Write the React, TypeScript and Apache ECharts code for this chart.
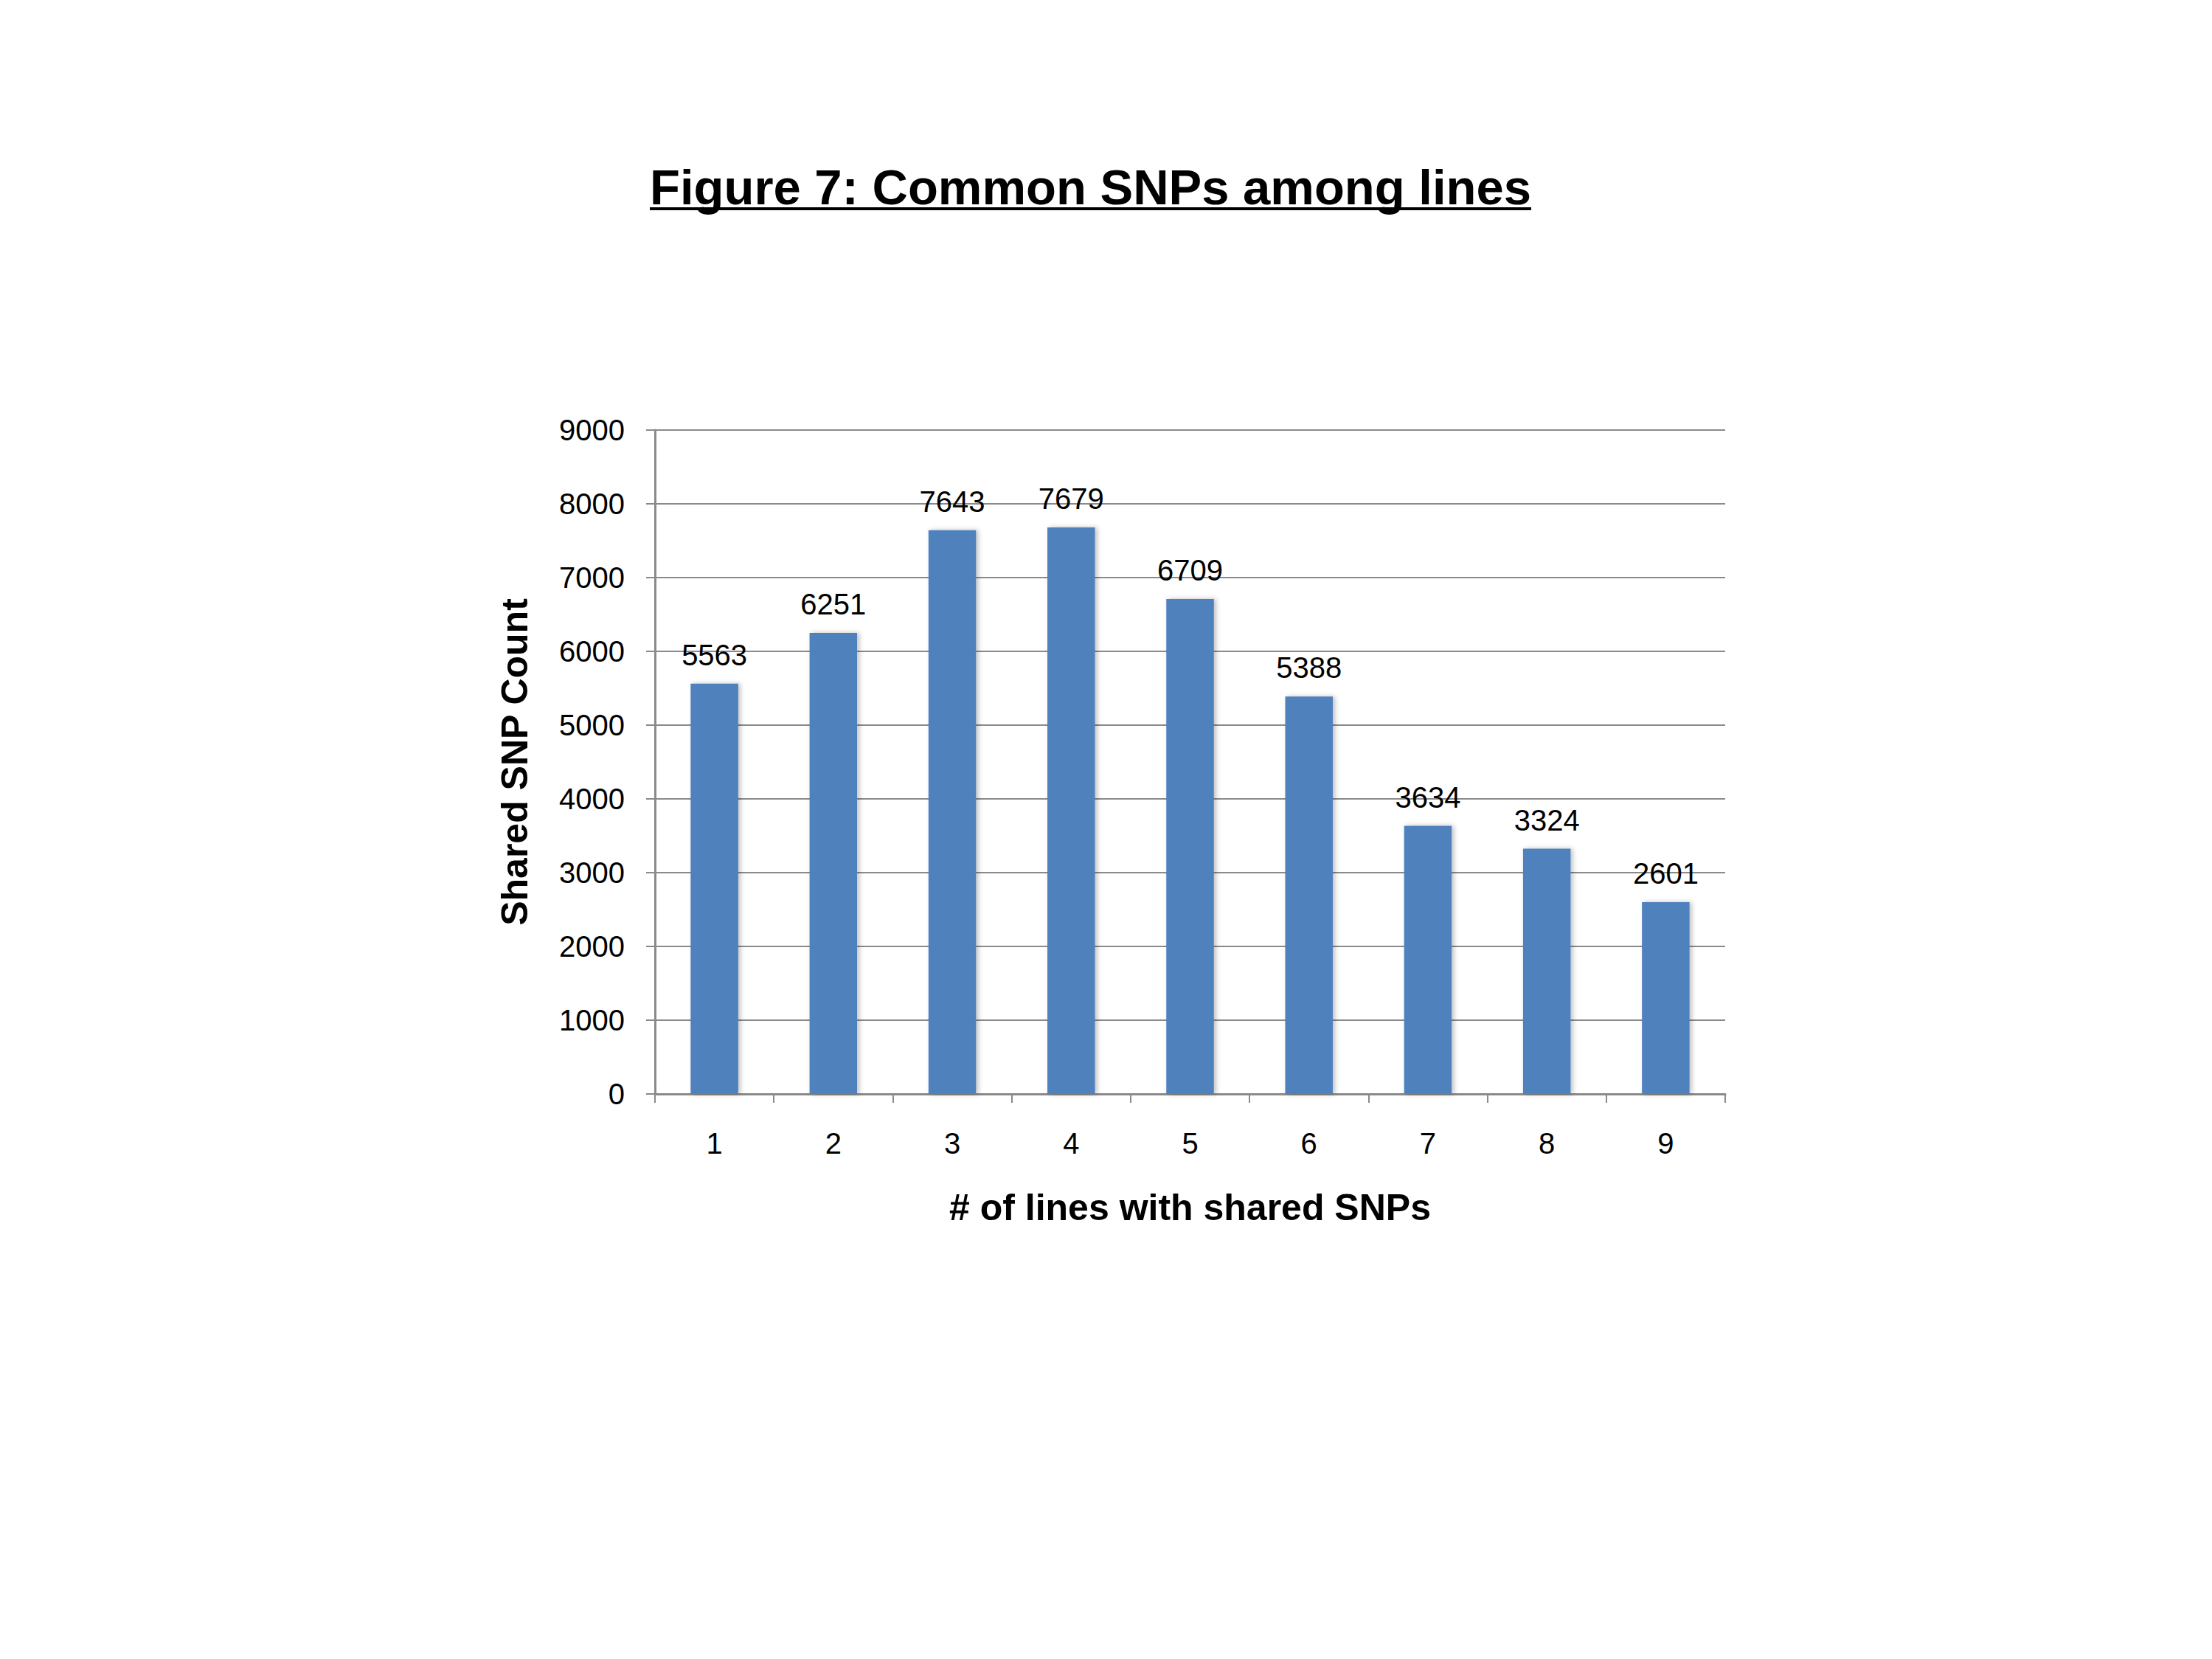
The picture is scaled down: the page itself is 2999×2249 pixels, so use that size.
import React, { useEffect, useRef } from "react";
import * as echarts from "echarts";

const titleText = "Figure 7: Common SNPs among lines";
const categories = ["1", "2", "3", "4", "5", "6", "7", "8", "9"];
const sharedCounts = [5563, 6251, 7643, 7679, 6709, 5388, 3634, 3324, 2601];
const xAxisName = "# of lines with shared SNPs";
const yAxisName = "Shared SNP Count";
const yMin = 0;
const yMax = 9000;
const yStep = 1000;

const FONT = "'Liberation Sans', Arial, Helvetica, sans-serif";
const GRAY = "#8a8a8a";

export default function App() {
  const ref = useRef<HTMLDivElement>(null);
  useEffect(() => {
    if (!ref.current) return;
    const chart = echarts.init(ref.current, null, { renderer: "svg" });
    const titleLeft = 881;
    const titleSize = 67;
    chart.setOption({
      animation: false,
      backgroundColor: "#ffffff",
      title: {
        text: titleText,
        left: titleLeft,
        top: 220,
        padding: 0,
        textStyle: {
          fontFamily: FONT,
          fontWeight: "bold",
          fontSize: titleSize,
          color: "#000000",
          lineHeight: titleSize,
        },
      },
      graphic: [
        {
          type: "rect",
          shape: { x: titleLeft, y: 281, width: 1195, height: 4 },
          style: { fill: "#000000" },
          silent: true,
        },
      ],
      grid: { left: 888, top: 583, width: 1451, height: 900, containLabel: false },
      xAxis: {
        type: "category",
        data: categories,
        name: xAxisName,
        nameLocation: "middle",
        nameGap: 129,
        nameTextStyle: { fontFamily: FONT, fontWeight: "bold", fontSize: 50, color: "#000" },
        axisLine: { show: true, lineStyle: { color: GRAY, width: 3 } },
        axisTick: { show: true, length: 12, alignWithLabel: false, lineStyle: { color: GRAY, width: 2 } },
        axisLabel: { fontFamily: FONT, fontSize: 40, color: "#000", margin: 47 },
        splitLine: { show: false },
      },
      yAxis: {
        type: "value",
        min: yMin,
        max: yMax,
        interval: yStep,
        name: yAxisName,
        nameLocation: "middle",
        nameGap: 165,
        nameRotate: 90,
        nameTextStyle: { fontFamily: FONT, fontWeight: "bold", fontSize: 50, color: "#000" },
        axisLine: { show: true, lineStyle: { color: GRAY, width: 3 } },
        axisTick: { show: true, length: 12, lineStyle: { color: GRAY, width: 2 } },
        axisLabel: {
          fontFamily: FONT,
          fontSize: 40,
          color: "#000",
          margin: 41,
          formatter: (v: number) => String(v),
        },
        splitLine: { show: true, lineStyle: { color: GRAY, width: 2 } },
      },
      series: [
        {
          type: "bar",
          data: sharedCounts,
          barWidth: "40%",
          itemStyle: {
            color: "#4f81bd",
            shadowColor: "rgba(0,0,0,0.25)",
            shadowBlur: 6,
            shadowOffsetX: 3,
            shadowOffsetY: 0,
          },
          label: {
            show: true,
            position: "top",
            distance: 19,
            fontFamily: FONT,
            fontSize: 40,
            color: "#000",
          },
        },
      ],
    });
    return () => chart.dispose();
  }, []);
  return (
    <div
      ref={ref}
      style={{ position: "fixed", left: 0, top: 0, width: 2999, height: 2249, background: "#fff" }}
    />
  );
}
